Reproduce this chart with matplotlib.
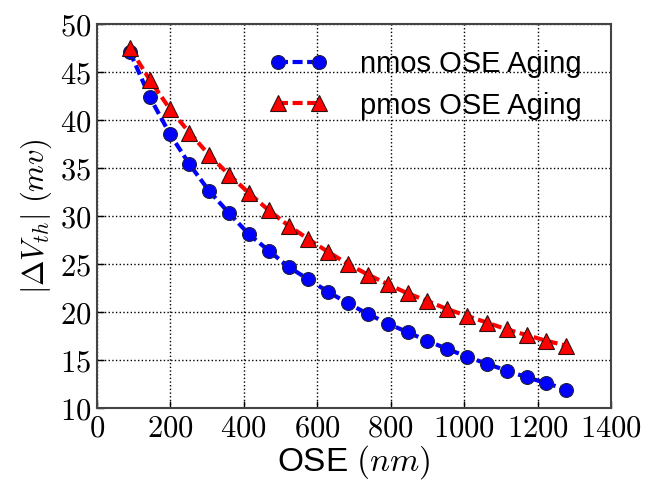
import matplotlib
matplotlib.use("Agg")
import matplotlib.pyplot as plt
from matplotlib.ticker import FuncFormatter

# OSE distance (nm)
ose = [90, 144, 198, 252, 306, 360, 414, 468, 522, 576, 630, 684,
       738, 792, 846, 900, 954, 1008, 1062, 1116, 1170, 1224, 1278]
# |dVth| (mV)
nmos = [47.1, 42.4, 38.6, 35.4, 32.6, 30.3, 28.1, 26.4, 24.7, 23.4, 22.1, 20.9,
        19.8, 18.8, 17.9, 17.0, 16.15, 15.35, 14.6, 13.9, 13.2, 12.6, 11.9]
pmos = [47.5, 44.2, 41.2, 38.7, 36.35, 34.3, 32.4, 30.6, 29.0, 27.6, 26.25, 25.0,
        23.9, 22.9, 21.95, 21.15, 20.3, 19.6, 18.9, 18.2, 17.6, 17.0, 16.5]
labels = ["nmos OSE Aging", "pmos OSE Aging"]

plt.rcParams["mathtext.fontset"] = "cm"
plt.rcParams["font.family"] = ["Liberation Sans", "DejaVu Sans"]

fig = plt.figure(figsize=(6.46, 4.84), dpi=100)
ax = fig.add_axes([0.150, 0.157, 0.796, 0.793])

ax.plot(ose, nmos, "--o", color="blue", lw=3, ms=10, mec="#202040", mew=0.8,
        dashes=(2.4, 1.1), label=labels[0], zorder=3)
ax.plot(ose, pmos, "--^", color="red", lw=3, ms=11, mec="#301010", mew=0.8,
        dashes=(2.4, 1.1), label=labels[1], zorder=3)

ax.set_xlim(0, 1400)
ax.set_ylim(10, 50)
ax.set_xticks(range(0, 1401, 200))
ax.set_yticks(range(10, 51, 5))
ax.xaxis.set_major_formatter(FuncFormatter(lambda v, p: f"${int(v)}$"))
ax.yaxis.set_major_formatter(FuncFormatter(lambda v, p: f"${int(v)}$"))
ax.tick_params(direction="in", length=5, width=1, labelsize=22, pad=4)
ax.grid(True, color="black", linestyle=":", linewidth=1)
for s in ax.spines.values():
    s.set_color("#444444")
    s.set_linewidth(1.5)

ax.set_xlabel(r"OSE $(nm)$", fontsize=24, labelpad=0)
ax.set_ylabel(r"$|\Delta V_{th}|\ (mv)$", fontsize=22, labelpad=4)

ax.legend(loc="upper right", frameon=False, numpoints=2, fontsize=21,
          handlelength=2.0, handletextpad=1.1, labelspacing=0.45,
          bbox_to_anchor=(0.993, 1.0))

fig.savefig("out.png", dpi=100)
